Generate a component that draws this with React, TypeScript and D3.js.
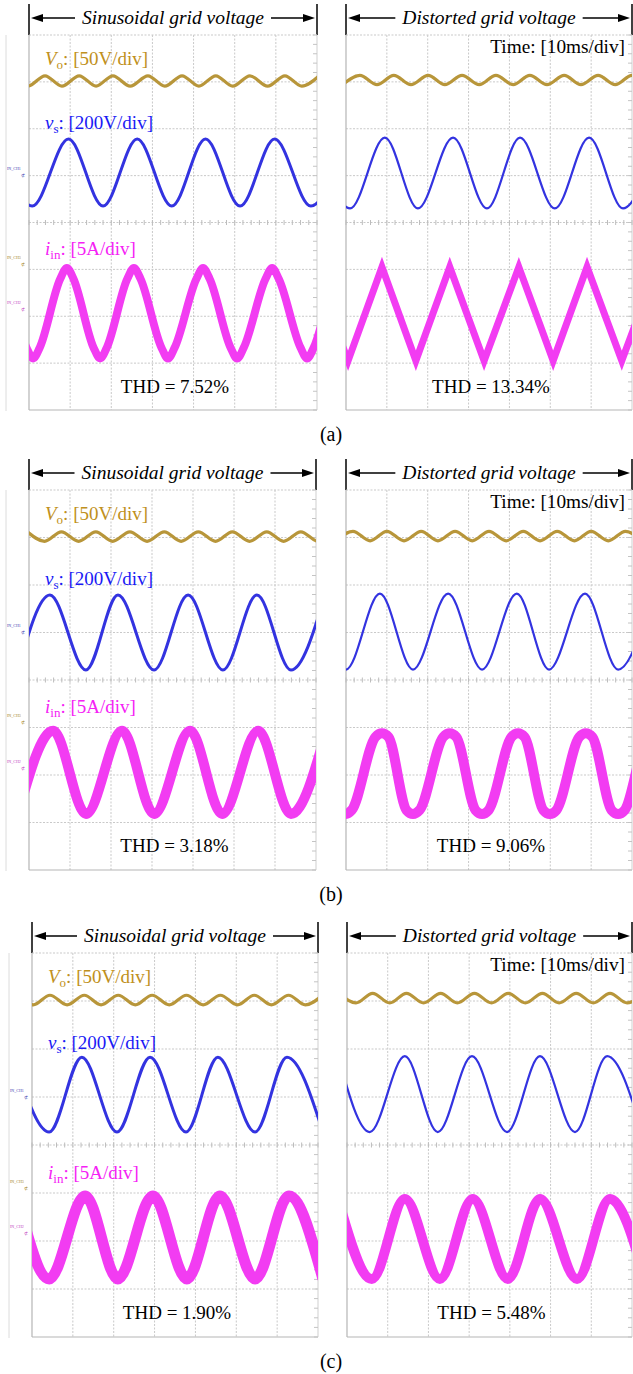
import { useEffect, useRef } from 'react';
import * as d3 from 'd3';

const width = 633, height = 1374;

// scope graticule: 7 x 10 ms, 8 vertical divisions
const timeTicks = [0, 10, 20, 30, 40, 50, 60, 70];
const divTicks = [0, 1, 2, 3, 4, 5, 6, 7, 8];

const panelNames = ['(a)', '(b)', '(c)'];
const headerText = ['Sinusoidal grid voltage', 'Distorted grid voltage'];
const thdValues = ['7.52', '13.34', '3.18', '9.06', '1.90', '5.48'];

// traces: [time ms, divisions from bottom]
const voA1 = [[-4.4, 7.13], [-0.3, 6.91], [3.9, 7.13], [8.0, 6.91], [12.2, 7.13], [16.3, 6.91], [20.4, 7.13], [24.6, 6.91], [28.9, 7.13], [33.0, 6.91], [37.2, 7.13], [41.3, 6.91], [45.4, 7.13], [49.5, 6.91], [53.7, 7.13], [58.0, 6.91], [62.2, 7.13], [66.3, 6.91], [70.5, 7.13]];
const voA2 = [[-0.8, 6.94], [3.4, 7.14], [7.6, 6.94], [11.7, 7.14], [15.9, 6.94], [20.1, 7.14], [24.2, 6.94], [28.4, 7.14], [32.6, 6.94], [36.7, 7.14], [40.9, 6.94], [45.0, 7.14], [49.2, 6.94], [53.4, 7.14], [57.5, 6.94], [61.7, 7.14], [65.9, 6.94], [70.0, 7.14], [74.2, 6.94]];
const voB1 = [[-0.4, 7.12], [3.8, 6.92], [7.9, 7.12], [12.1, 6.92], [16.3, 7.12], [20.4, 6.92], [24.6, 7.12], [28.8, 6.92], [33.0, 7.12], [37.1, 6.92], [41.3, 7.12], [45.5, 6.92], [49.6, 7.12], [53.8, 6.92], [58.0, 7.12], [62.1, 6.92], [66.3, 7.12], [70.5, 6.92], [74.6, 7.12]];
const voB2 = [[-2.5, 6.93], [1.7, 7.13], [5.9, 6.93], [10.0, 7.13], [14.2, 6.93], [18.4, 7.13], [22.5, 6.93], [26.7, 7.13], [30.9, 6.93], [35.0, 7.13], [39.2, 6.93], [43.4, 7.13], [47.5, 6.93], [51.7, 7.13], [55.9, 6.93], [60.0, 7.13], [64.2, 6.93], [68.4, 7.13], [72.5, 6.93]];
const voC1 = [[-3.9, 7.12], [0.3, 6.92], [4.4, 7.12], [8.6, 6.92], [12.8, 7.12], [16.9, 6.92], [21.1, 7.12], [25.3, 6.92], [29.4, 7.12], [33.6, 6.92], [37.8, 7.12], [41.9, 6.92], [46.1, 7.12], [50.3, 6.92], [54.4, 7.12], [58.6, 6.92], [62.8, 7.12], [66.9, 6.92], [71.1, 7.12]];
const voC2 = [[-2.0, 7.16], [2.2, 6.96], [6.3, 7.16], [10.5, 6.96], [14.6, 7.16], [18.8, 6.96], [23.0, 7.16], [27.1, 6.96], [31.3, 7.16], [35.5, 6.96], [39.6, 7.16], [43.8, 6.96], [48.0, 7.16], [52.1, 6.96], [56.3, 7.16], [60.5, 6.96], [64.6, 7.16], [68.8, 6.96], [73.0, 7.16]];

const vsA1 = [[-7.5, 5.78], [0.8, 4.35], [9.6, 5.78], [18.0, 4.35], [26.3, 5.78], [34.7, 4.35], [42.9, 5.78], [51.3, 4.35], [59.7, 5.78], [68.5, 4.35], [77.0, 5.78]];
const vsA2 = [[-7.2, 5.81], [1.0, 4.30], [9.5, 5.81], [17.6, 4.30], [26.2, 5.81], [34.5, 4.30], [42.6, 5.81], [51.1, 4.30], [59.5, 5.81], [67.8, 4.30], [76.2, 5.81]];
const vsB1 = [[-2.7, 4.21], [5.1, 5.79], [13.9, 4.21], [21.7, 5.79], [30.5, 4.21], [38.8, 5.79], [47.3, 4.21], [55.6, 5.79], [63.9, 4.21], [72.2, 5.79]];
const vsB2 = [[-8.3, 5.82], [0.0, 4.22], [8.3, 5.82], [16.4, 4.22], [25.0, 5.82], [33.3, 4.22], [41.8, 5.82], [49.7, 4.22], [58.5, 5.82], [66.6, 4.22], [75.0, 5.82]];
const vsC1 = [[-4.4, 5.83], [4.2, 4.27], [12.2, 5.83], [20.8, 4.27], [28.9, 5.83], [37.7, 4.27], [45.5, 5.83], [54.6, 4.27], [62.4, 5.83], [71.2, 4.27]];
const vsC2 = [[-2.2, 5.85], [5.6, 4.27], [14.2, 5.85], [22.3, 4.27], [30.7, 5.85], [39.3, 4.27], [47.4, 5.85], [56.0, 4.27], [63.9, 5.85], [72.5, 4.27]];

const iinA1 = [[-7.3, 3.03], [-5.7, 2.80], [-0.6, 1.33], [1.0, 1.10], [2.6, 1.33], [7.6, 2.80], [9.2, 3.03], [10.8, 2.80], [15.7, 1.33], [17.3, 1.10], [18.9, 1.33], [23.9, 2.80], [25.5, 3.03], [27.1, 2.80], [32.2, 1.33], [33.8, 1.10], [35.4, 1.33], [40.7, 2.80], [42.3, 3.03], [43.9, 2.80], [49.0, 1.33], [50.6, 1.10], [52.2, 1.33], [57.5, 2.80], [59.1, 3.03], [60.7, 2.80], [66.0, 1.33], [67.6, 1.10], [69.2, 1.33], [74.4, 2.80], [76.0, 3.03]];
const iinA2 = [[-8.0, 3.05], [0.5, 1.05], [8.8, 3.05], [17.1, 1.05], [25.4, 3.05], [33.8, 1.05], [42.3, 3.05], [50.7, 1.05], [59.0, 3.05], [67.5, 1.05], [76.0, 3.05]];
const iinB1 = [[-2.7, 1.18], [5.9, 2.93], [13.9, 1.18], [22.7, 2.93], [30.5, 1.18], [39.3, 2.93], [47.1, 1.18], [55.9, 2.93], [63.9, 1.18], [72.5, 2.93]];
const iinB2 = [[-8.5, 2.88], [-6.9, 2.80], [-1.8, 1.26], [-0.2, 1.18], [1.4, 1.26], [7.2, 2.80], [8.8, 2.88], [10.4, 2.80], [14.8, 1.26], [16.4, 1.18], [18.0, 1.26], [23.8, 2.80], [25.4, 2.88], [27.0, 2.80], [31.7, 1.26], [33.3, 1.18], [34.9, 1.26], [40.5, 2.80], [42.1, 2.88], [43.7, 2.80], [48.3, 1.26], [49.9, 1.18], [51.5, 1.26], [57.1, 2.80], [58.7, 2.88], [60.3, 2.80], [65.0, 1.26], [66.6, 1.18], [68.2, 1.26], [73.6, 2.80], [75.2, 2.88]];
const iinC1 = [[-3.7, 2.94], [4.2, 1.21], [13.0, 2.94], [21.0, 1.21], [29.6, 2.94], [37.9, 1.21], [46.0, 2.94], [54.6, 1.21], [62.9, 2.94], [71.2, 1.21]];
const iinC2 = [[-2.2, 2.875], [6.1, 1.21], [14.2, 2.875], [22.8, 1.21], [30.9, 2.875], [39.5, 1.21], [47.4, 2.875], [56.5, 1.21], [64.6, 2.875], [73.2, 1.21]];

const voTraces = [voA1, voA2, voB1, voB2, voC1, voC2];
const vsTraces = [vsA1, vsA2, vsB1, vsB2, vsC1, vsC2];
const iinTraces = [iinA1, iinA2, iinB1, iinB2, iinC1, iinC2];

// screen rectangles on the page
const screens = [
    { x0: 29, x1: 317, top: 35, bottom: 410 },
    { x0: 346, x1: 632, top: 35, bottom: 410 },
    { x0: 29, x1: 316, top: 490, bottom: 870 },
    { x0: 346, x1: 632, top: 490, bottom: 870 },
    { x0: 32, x1: 318, top: 953, bottom: 1337 },
    { x0: 347, x1: 632, top: 953, bottom: 1337 },
];
const iinWidth = [8, 7, 10, 10, 11, 10];
const vsWidth = [3, 2.2, 3, 2.2, 3, 2.2];

const serif = "'Liberation Serif', 'Times New Roman', serif";
const grid = '#c9c9c9';
const cVo = '#b8963a', cVs = '#3333e0', cIin = '#f23cf2';
const tVo = '#bf9020', tVs = '#1a1af5', tIin = '#f522f5';

function App() {
    const node = useRef<SVGSVGElement>(null);
    useEffect(() => {
        if (!node.current) return;
        const svg = d3.select(node.current);
        svg.selectAll('*').remove();

        screens.forEach((s, i) => {
            const left = i % 2 === 0;
            const x = d3.scaleLinear().domain([0, 70]).range([s.x0, s.x1]);
            const y = d3.scaleLinear().domain([0, 8]).range([s.bottom, s.top]);
            const g = svg.append('g');

            // header with double arrow
            const hy = s.top - 17;
            g.selectAll('line.bar').data([s.x0, s.x1]).enter().append('line')
                .attr('x1', d => d).attr('x2', d => d)
                .attr('y1', s.top - 31).attr('y2', s.top)
                .attr('stroke', '#000').attr('stroke-width', 1.5);
            const cx = (s.x0 + s.x1) / 2;
            const ht = g.append('text').attr('x', cx).attr('y', hy + 6)
                .attr('text-anchor', 'middle').attr('font-family', serif)
                .attr('font-style', 'italic').attr('font-size', 19.5).text(headerText[i % 2]);
            const tw = (ht.node() as SVGTextElement).getComputedTextLength();
            g.append('line').attr('x1', s.x0 + 8).attr('x2', cx - tw / 2 - 7)
                .attr('y1', hy).attr('y2', hy).attr('stroke', '#000').attr('stroke-width', 1.3);
            g.append('line').attr('x1', cx + tw / 2 + 7).attr('x2', s.x1 - 8)
                .attr('y1', hy).attr('y2', hy).attr('stroke', '#000').attr('stroke-width', 1.3);
            g.append('path').attr('d', `M${s.x0 + 2},${hy}L${s.x0 + 14},${hy - 4}L${s.x0 + 14},${hy + 4}Z`);
            g.append('path').attr('d', `M${s.x1 - 2},${hy}L${s.x1 - 14},${hy - 4}L${s.x1 - 14},${hy + 4}Z`);

            // faint frame of the screenshot on the left
            if (left) {
                g.append('line').attr('x1', s.x0 - 23).attr('x2', s.x0 - 23)
                    .attr('y1', s.top).attr('y2', s.bottom + 1).attr('stroke', '#dcdcdc');
            }

            // graticule
            g.selectAll('line.v').data(timeTicks.slice(1, -1)).enter().append('line')
                .attr('x1', d => x(d)).attr('x2', d => x(d)).attr('y1', s.top).attr('y2', s.bottom)
                .attr('stroke', grid).attr('stroke-dasharray', '2,1.5');
            g.selectAll('line.h').data(divTicks.slice(1, -1)).enter().append('line')
                .attr('x1', s.x0).attr('x2', s.x1).attr('y1', d => y(d)).attr('y2', d => y(d))
                .attr('stroke', grid).attr('stroke-dasharray', '2,1.5');
            g.append('line').attr('x1', s.x0).attr('x2', s.x1).attr('y1', s.top).attr('y2', s.top)
                .attr('stroke', grid).attr('stroke-dasharray', '2,1.5');
            g.append('line').attr('x1', s.x0).attr('x2', s.x1).attr('y1', s.bottom).attr('y2', s.bottom)
                .attr('stroke', '#b5b5b5').attr('stroke-width', 1.2);
            g.append('line').attr('x1', s.x0).attr('x2', s.x0).attr('y1', s.top).attr('y2', s.bottom)
                .attr('stroke', '#b5b5b5').attr('stroke-width', 1.2);
            g.append('line').attr('x1', s.x1).attr('x2', s.x1).attr('y1', s.top).attr('y2', s.bottom)
                .attr('stroke', '#cfcfcf');
            const minorT = d3.range(0, 70.01, 2);
            g.selectAll('line.mt').data(minorT).enter().append('line')
                .attr('x1', d => x(d)).attr('x2', d => x(d)).attr('y1', y(4) - 2.5).attr('y2', y(4) + 2.5)
                .attr('stroke', '#bdbdbd');
            const minorY = d3.range(0, 8.01, 0.2);
            g.selectAll('line.my').data(minorY).enter().append('line')
                .attr('x1', s.x1 - 4).attr('x2', s.x1).attr('y1', d => y(d)).attr('y2', d => y(d))
                .attr('stroke', '#c4c4c4');

            // traces
            const clipId = 'clip' + i;
            g.append('clipPath').attr('id', clipId).append('rect')
                .attr('x', s.x0).attr('y', s.top).attr('width', s.x1 - s.x0).attr('height', s.bottom - s.top);
            const tr = g.append('g').attr('clip-path', `url(#${clipId})`);
            const mk = (curve: d3.CurveFactory) => d3.line<number[]>()
                .x(d => x(d[0])).y(d => y(d[1])).curve(curve);
            tr.append('path').attr('d', mk(d3.curveMonotoneX)(voTraces[i]))
                .attr('fill', 'none').attr('stroke', cVo).attr('stroke-width', 3.2);
            tr.append('path').attr('d', mk(d3.curveMonotoneX)(vsTraces[i]))
                .attr('fill', 'none').attr('stroke', cVs).attr('stroke-width', vsWidth[i]);
            tr.append('path').attr('d', mk(i === 1 ? d3.curveLinear : d3.curveMonotoneX)(iinTraces[i]))
                .attr('fill', 'none').attr('stroke', cIin).attr('stroke-width', iinWidth[i])
                .attr('stroke-linejoin', 'miter');

            // labels
            if (left) {
                const lab = (yy: number, color: string, main: string, sub: string, rest: string) => {
                    const t = g.append('text').attr('x', s.x0 + 16).attr('y', y(yy))
                        .attr('font-family', serif).attr('font-size', 19).attr('fill', color);
                    t.append('tspan').attr('font-style', 'italic').text(main);
                    t.append('tspan').attr('dy', 4).attr('font-size', 13).text(sub);
                    t.append('tspan').attr('dy', -4).text(rest);
                };
                lab(7.37, tVo, 'V', 'o', ': [50V/div]');
                lab(6.0, tVs, 'v', 's', ': [200V/div]');
                lab(3.3, tIin, 'i', 'in', ': [5A/div]');

                const ch = [[5.05, '#3a3ab0', 'IN_CH1'], [3.15, '#a08020', 'IN_CH3'], [2.2, '#c040c0', 'IN_CH2']];
                ch.forEach(([v, c, txt]) => {
                    g.append('text').attr('x', s.x0 - 22).attr('y', y(v as number) - 3)
                        .attr('font-family', serif).attr('font-size', 4).attr('fill', c as string).text(txt as string);
                    g.append('text').attr('x', s.x0 - 8).attr('y', y(v as number) + 4)
                        .attr('font-family', serif).attr('font-size', 5).attr('fill', c as string).text('⊄');
                });
            } else {
                g.append('text').attr('x', s.x1 - 7).attr('y', s.top + 18).attr('text-anchor', 'end')
                    .attr('font-family', serif).attr('font-size', 19.3).text('Time: [10ms/div]');
            }
            g.append('text').attr('x', cx + 2).attr('y', y(0.37)).attr('text-anchor', 'middle')
                .attr('font-family', serif).attr('font-size', 19).text(`THD = ${thdValues[i]}%`);

            if (left) {
                svg.append('text').attr('x', 331).attr('y', s.bottom + 31).attr('text-anchor', 'middle')
                    .attr('font-family', serif).attr('font-size', 20).text(panelNames[i / 2]);
            }
        });
    }, [node]);

    return (
        <svg ref={node} width={width} height={height}
            style={{ position: 'absolute', left: 0, top: 0, background: '#fff' }} />
    );
}

export default App;
